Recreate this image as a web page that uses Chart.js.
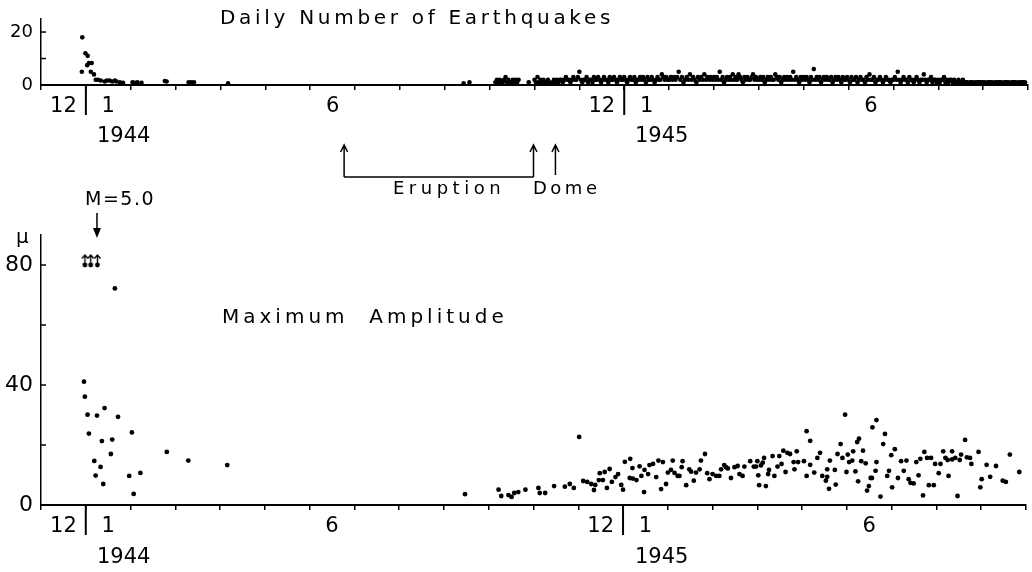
<!DOCTYPE html>
<html>
<head>
<meta charset="utf-8">
<script src="https://cdn.jsdelivr.net/npm/chart.js@4.4.0/dist/chart.umd.min.js"></script>
<style>
  html, body { margin: 0; padding: 0; background: #fff; }
  #wrap { position: relative; width: 1032px; height: 572px; overflow: hidden; font-family: "DejaVu Sans", sans-serif; color: #000; }
  #wrap canvas { position: absolute; left: 0; top: 0; }
  .lbl { position: absolute; white-space: pre; line-height: 1; }
</style>
</head>
<body>
<div id="wrap">
  <canvas id="countChart" width="1032" height="572"></canvas>
  <canvas id="ampChart" width="1032" height="572"></canvas>
  <div class="lbl" style="left:220px;top:7px;font-size:20px;letter-spacing:3.7px">Daily Number of Earthquakes</div>
  <div class="lbl" style="left:97px;top:125px;font-size:21px">1944</div>
  <div class="lbl" style="left:635px;top:125px;font-size:21px">1945</div>
  <div class="lbl" style="left:393px;top:179px;font-size:18px;letter-spacing:4.5px">Eruption</div>
  <div class="lbl" style="left:533px;top:179px;font-size:18px;letter-spacing:3.5px">Dome</div>
  <div class="lbl" style="left:85px;top:189px;font-size:19px;letter-spacing:1.5px">M=5.0</div>
  <div class="lbl" style="left:16px;top:226px;font-size:20px">μ</div>
  <div class="lbl" style="left:222px;top:306px;font-size:20px;letter-spacing:4px">Maximum  Amplitude</div>
  <div class="lbl" style="left:97px;top:546px;font-size:21px">1944</div>
  <div class="lbl" style="left:635px;top:546px;font-size:21px">1945</div>
</div>
<script>
// x values are months counted from 1 Jan 1944 (-1 = Dec 1943, 12 = Jan 1945)
const monthLabelPos = [-0.5, 0.5, 5.5, 11.5, 12.5, 17.5];
const monthLabelText = ['12', '1', '6', '12', '1', '6'];
const yearStarts = [0, 12];

const countTicks = [0, 10, 20];
const countTickLabels = ['0', '', '20'];
const ampTicks = [0, 20, 40, 60, 80];
const ampTickLabels = ['0', '', '40', '', '80'];

// eruption of Showa-Shinzan and the dome
const eruptionStart = 5.77;
const eruptionEnd = 10.0;
const domeStart = 10.49;
const mainShock = 0.25;

// daily number, swarm of Dec 1943 - Apr 1944 and a few in Sep 1944
const countEarly = [
  [-0.09, 5], [-0.08, 18], [-0.01, 12], [0.03, 7.5], [0.04, 11], [0.07, 8.3], [0.11, 5], [0.13, 8.3],
  [0.18, 4], [0.22, 2], [0.27, 2], [0.33, 1.7], [0.42, 1.3], [0.47, 1.7], [0.53, 1.7], [0.59, 1.3],
  [0.65, 1.7], [0.68, 1.3], [0.76, 1], [0.83, 0.8], [1.04, 1], [1.09, 0.8], [1.15, 1], [1.24, 0.8],
  [1.76, 1.5], [1.80, 1.3], [2.29, 1], [2.35, 1], [2.41, 1], [3.17, 0.6], [8.42, 0.6], [8.55, 1]
];

// daily number from 5 Oct 1944 on (null = no shock recorded)
const countOct44 = [1, 2, 1, 2, 1, 1, 2, 3, 1, 2, 1, 1, 2, 1, 2, 1, 2, null, null, null, null, null, null, 1, null, null, null];
const countNov44 = [2, 1, 3, 1, 2, 1, 2, 1, 1, 2, 1, null, 1, 2, 1, 2, 1, 2, 2, 1, 2, 3, 2, 2, 1, 2, 3, 2, 2, 3];
const countDec44 = [5, 2, 1, 2, 2, 3, 1, 2, 2, 1, 3, 2, 2, 3, 2, 1, 2, 3, 2, 2, 1, 3, 2, 2, 3, 2, 1, 2, 3, 2, 2];
const countJan45 = [3, 2, 1, 2, 3, 2, 2, 3, 1, 2, 2, 3, 2, 3, 2, 1, 3, 2, 2, 3, 2, 1, 2, 3, 2, 2, 4, 3, 2, 3, 2];
const countFeb45 = [2, 3, 2, 3, 2, 3, 5, 2, 3, 1, 2, 3, 2, 4, 2, 3, 2, 1, 3, 2, 3, 2, 4, 2, 3, 2, 3, 2];
const countMar45 = [3, 2, 3, 2, 5, 2, 3, 1, 2, 3, 2, 3, 2, 4, 2, 3, 2, 4, 3, 2, 1, 3, 2, 3, 2, 2, 3, 4, 2, 3, 2];
const countApr45 = [2, 3, 2, 3, 1, 2, 3, 2, 3, 2, 2, 4, 3, 2, 3, 1, 2, 3, 2, 3, 2, 3, 2, 5, 2, 3, 2, 1, 3, 2];
const countMay45 = [3, 2, 3, 2, 1, 3, 2, 6, 2, 3, 2, 3, 1, 2, 3, 2, 3, 2, 2, 3, 1, 2, 3, 2, 3, 2, 1, 3, 2, 2, 3];
const countJun45 = [2, 1, 3, 2, 2, 3, 1, 2, 3, 2, 2, 1, 3, 2, 4, 2, 2, 3, 1, 2, 2, 3, 2, 1, 2, 3, 2, 2, 1, 2];
const countJul45 = [2, 3, 2, 5, 2, 1, 2, 3, 2, 2, 1, 3, 2, 2, 1, 2, 3, 2, 1, 2, 2, 4, 2, 1, 2, 2, 3, 1, 2, 2, 1];
const countAug45 = [2, 1, 2, 2, 3, 1, 2, 1, 2, 2, 1, 2, 1, 1, 2, 1, 1, 2, 1, 1, 1, null, 1, 1, 1, null, 1, 1, 1, 1, 1];
const countSep45 = [1, 1, null, 1, 1, 1, 1, null, 1, 1, 1, 1, 1, null, 1, 1, 1, 1, null, 1, 1, 1, 1, null, 1, 1, 1, 1, 1, null];

// maximum amplitude (micron)
const ampOffScale = [[-0.02, 80], [0.11, 80], [0.26, 80]];
const ampEarly = [
  [-0.04, 41.1], [-0.02, 36.1], [0.04, 30.1], [0.07, 23.8], [0.19, 14.7], [0.22, 9.8], [0.25, 29.8],
  [0.33, 12.7], [0.36, 21.3], [0.39, 7], [0.42, 32.3], [0.56, 17], [0.59, 21.8], [0.65, 72.2],
  [0.72, 29.4], [0.97, 9.7], [1.03, 24.2], [1.07, 3.7], [1.22, 10.7], [1.81, 17.7], [2.29, 14.8], [3.16, 13.3]
];
const ampMid = [
  [8.47, 3.6], [9.22, 5.1], [9.28, 3], [9.44, 3.3], [9.51, 2.7], [9.57, 4], [9.66, 4.3], [9.82, 5.1],
  [10.11, 5.7], [10.14, 4], [10.26, 4], [10.46, 6.3], [10.70, 6.1], [10.81, 7], [10.90, 5.7], [11.02, 22.7],
  [11.11, 8], [11.20, 7.7], [11.29, 7], [11.35, 5], [11.38, 6.7], [11.46, 8.3], [11.48, 10.6], [11.55, 8.3],
  [11.59, 11], [11.64, 5.7], [11.70, 12], [11.75, 7.7], [11.83, 9.3], [11.89, 10.3], [11.96, 6.7], [12.00, 5.1],
  [12.04, 14.4], [12.15, 9], [12.16, 15.4], [12.21, 12.3], [12.22, 8.8], [12.30, 8.3], [12.37, 12.9], [12.41, 9.7],
  [12.47, 4.3], [12.48, 11.7], [12.56, 10.3], [12.59, 13.3], [12.67, 13.7], [12.74, 9.3], [12.79, 14.8], [12.85, 5.3],
  [12.89, 14.3], [12.96, 7], [13.00, 10.8], [13.07, 11.7], [13.11, 14.8], [13.15, 10.7], [13.22, 9.7]
];
const ampSpring45 = [
  [13.26, 9.7], [13.31, 12.6], [13.33, 14.6], [13.41, 6.6], [13.48, 11.9], [13.52, 11.1], [13.58, 8.1], [13.63, 10.8],
  [13.71, 11.9], [13.74, 14.8], [13.83, 17], [13.88, 10.6], [13.93, 8.6], [14.00, 10.3], [14.08, 9.7], [14.15, 9.7],
  [14.19, 11.9], [14.26, 13.3], [14.30, 12.6], [14.34, 12.2], [14.41, 9], [14.49, 12.6], [14.56, 13], [14.60, 10.3],
  [14.67, 9.7], [14.71, 12.8], [14.84, 14.6], [14.92, 12.8], [14.97, 12.8], [15.00, 14.6], [15.02, 9.9], [15.04, 6.6],
  [15.08, 13.2], [15.12, 14.1], [15.15, 15.7], [15.19, 6.3], [15.24, 10.3], [15.26, 11.7], [15.34, 16.3], [15.38, 9.7],
  [15.45, 12.8], [15.49, 16.3], [15.54, 13.7], [15.58, 18.1], [15.63, 11], [15.67, 17.4], [15.73, 17], [15.81, 14.3],
  [15.83, 11.9], [15.88, 17.9], [15.91, 14.3], [16.04, 14.6], [16.10, 24.6], [16.10, 9.7], [16.18, 21.4], [16.18, 13.4],
  [16.27, 10.8], [16.34, 15.7], [16.40, 17.4], [16.45, 9.7], [16.53, 8.1], [16.56, 9.4], [16.56, 11.9], [16.60, 5.4],
  [16.62, 14.8], [16.73, 11.7], [16.75, 6.8], [16.79, 17], [16.86, 20.3], [16.90, 15.7], [16.96, 30.1], [16.99, 11]
];
const ampSummer45 = [
  [17.02, 16.8], [17.05, 14.3], [17.12, 14.8], [17.14, 17.9], [17.19, 11.2], [17.23, 21], [17.25, 7.9], [17.27, 22.1],
  [17.32, 14.6], [17.36, 18.1], [17.42, 13.9], [17.45, 4.8], [17.49, 6.3], [17.53, 9], [17.56, 9], [17.57, 25.9],
  [17.64, 11.4], [17.66, 28.3], [17.66, 14.3], [17.75, 2.8], [17.81, 20.3], [17.85, 23.7], [17.90, 9.7], [17.94, 11.4],
  [17.99, 16.6], [18.01, 5.9], [18.07, 18.6], [18.14, 9], [18.21, 14.6], [18.27, 11.4], [18.33, 14.8], [18.38, 8.6],
  [18.42, 7.4], [18.49, 7.2], [18.55, 14.3], [18.60, 9.9], [18.64, 15.4], [18.70, 3.2], [18.73, 17.7], [18.79, 15.7],
  [18.83, 6.6], [18.88, 15.7], [18.94, 6.6], [18.97, 13.7], [19.05, 10.6], [19.09, 13.7], [19.15, 17.9], [19.20, 15.7],
  [19.25, 15], [19.27, 9.7], [19.35, 17.9], [19.35, 15.2], [19.42, 15.7], [19.47, 3], [19.52, 15], [19.55, 16.8],
  [19.64, 21.7], [19.68, 15.9], [19.75, 15.7], [19.78, 13.7], [19.94, 17.7], [19.98, 5.9], [20.01, 8.6], [20.12, 13.4],
  [20.20, 9.4], [20.33, 13], [20.48, 8.1], [20.55, 7.7], [20.64, 16.8], [20.85, 11]
];

const FONT = '"DejaVu Sans", sans-serif';

const countSegments = [
  [1944, 9, 5, countOct44], [1944, 10, 1, countNov44], [1944, 11, 1, countDec44],
  [1945, 0, 1, countJan45], [1945, 1, 1, countFeb45], [1945, 2, 1, countMar45],
  [1945, 3, 1, countApr45], [1945, 4, 1, countMay45], [1945, 5, 1, countJun45],
  [1945, 6, 1, countJul45], [1945, 7, 1, countAug45], [1945, 8, 1, countSep45]
];

const countPoints = countEarly.map(([x, y]) => ({ x, y }));
countSegments.forEach(([yr, mo, firstDay, vals]) => {
    const daysInMonth = new Date(yr, mo + 1, 0).getDate();
    vals.forEach((v, i) => {
        if (v === null) return;
        countPoints.push({ x: (yr - 1944) * 12 + mo + (firstDay - 1 + i) / daysInMonth, y: v });
    });
});

const ampPoints = [...ampEarly, ...ampMid, ...ampSpring45, ...ampSummer45].map(([x, y]) => ({ x, y }));
const ampOverPoints = ampOffScale.map(([x, y]) => ({ x, y }));

// dot with a small up arrow: value beyond the scale
function offScaleMarker() {
    const c = document.createElement('canvas');
    c.width = 9;
    c.height = 28;
    const g = c.getContext('2d');
    g.fillStyle = '#000';
    g.strokeStyle = '#000';
    g.lineWidth = 1.4;
    g.beginPath();
    g.arc(4.5, 14, 2.4, 0, Math.PI * 2);
    g.fill();
    g.beginPath();
    g.moveTo(4.5, 14);
    g.lineTo(4.5, 4);
    g.stroke();
    g.beginPath();
    g.moveTo(1.5, 7.5);
    g.lineTo(4.5, 4);
    g.lineTo(7.5, 7.5);
    g.stroke();
    return c;
}

function monthAxis(axisHeight) {
    return {
        type: 'linear',
        min: -1,
        max: 21,
        afterBuildTicks: scale => {
            const t = [];
            for (let m = -1; m <= 21; m++) t.push(m);
            monthLabelPos.forEach(v => t.push(v));
            t.sort((a, b) => a - b);
            scale.ticks = t.map(v => ({ value: v }));
        },
        afterFit: scale => { scale.height = axisHeight; },
        grid: {
            drawOnChartArea: false,
            tickLength: 5,
            lineWidth: 1.5,
            color: ctx => (ctx.tick && Number.isInteger(ctx.tick.value)) ? '#000' : 'rgba(0,0,0,0)'
        },
        border: { color: '#000', width: 2 },
        ticks: {
            autoSkip: false,
            maxRotation: 0,
            padding: 4,
            color: '#000',
            font: { family: FONT, size: 21 },
            callback: v => {
                const i = monthLabelPos.indexOf(v);
                return i >= 0 ? monthLabelText[i] : '';
            }
        }
    };
}

function valueAxis(max, ticks, labels, fontSize) {
    return {
        type: 'linear',
        min: 0,
        max: max,
        afterBuildTicks: scale => { scale.ticks = ticks.map(v => ({ value: v })); },
        afterFit: scale => { scale.width = 41; },
        grid: { drawOnChartArea: false, drawTicks: false },
        border: { color: '#000', width: 1.5 },
        ticks: {
            autoSkip: false,
            padding: 8,
            color: '#000',
            font: { family: FONT, size: fontSize },
            callback: v => {
                const i = ticks.indexOf(v);
                return i >= 0 ? labels[i] : '';
            }
        }
    };
}

// short inner ticks on the value axis and the long year lines under the time axis
const axisMarks = {
    id: 'axisMarks',
    afterDraw(chart) {
        const { ctx, chartArea, scales: { x, y } } = chart;
        ctx.save();
        ctx.strokeStyle = '#000';
        ctx.lineWidth = 1.5;
        y.ticks.forEach(t => {
            const py = y.getPixelForValue(t.value);
            ctx.beginPath();
            ctx.moveTo(chartArea.left, py);
            ctx.lineTo(chartArea.left + 5, py);
            ctx.stroke();
        });
        ctx.lineWidth = 2;
        yearStarts.forEach(v => {
            const px = x.getPixelForValue(v);
            ctx.beginPath();
            ctx.moveTo(px, chartArea.bottom);
            ctx.lineTo(px, chartArea.bottom + 30);
            ctx.stroke();
        });
        ctx.restore();
    }
};

function upArrow(ctx, x, bottom, top) {
    ctx.beginPath();
    ctx.moveTo(x, bottom);
    ctx.lineTo(x, top);
    ctx.moveTo(x - 3.5, top + 7);
    ctx.lineTo(x, top);
    ctx.lineTo(x + 3.5, top + 7);
    ctx.stroke();
}

// eruption / dome arrows and the M=5.0 arrow
const eventMarks = {
    id: 'eventMarks',
    afterDraw(chart) {
        const { ctx, scales: { x } } = chart;
        const xs = x.getPixelForValue(eruptionStart);
        const xe = x.getPixelForValue(eruptionEnd);
        const xd = x.getPixelForValue(domeStart);
        const xm = x.getPixelForValue(mainShock);
        ctx.save();
        ctx.strokeStyle = '#000';
        ctx.fillStyle = '#000';
        ctx.lineWidth = 1.5;
        upArrow(ctx, xs, 177, 145);
        upArrow(ctx, xe, 177, 145);
        upArrow(ctx, xd, 175, 145);
        ctx.beginPath();
        ctx.moveTo(xs, 177);
        ctx.lineTo(xe, 177);
        ctx.stroke();
        ctx.beginPath();
        ctx.moveTo(xm, 213);
        ctx.lineTo(xm, 230);
        ctx.stroke();
        ctx.beginPath();
        ctx.moveTo(xm - 4, 228);
        ctx.lineTo(xm + 4, 228);
        ctx.lineTo(xm, 238);
        ctx.closePath();
        ctx.fill();
        ctx.restore();
    }
};

new Chart(document.getElementById('countChart'), {
    type: 'scatter',
    data: {
        datasets: [{
            data: countPoints,
            pointRadius: 2.3,
            pointBackgroundColor: '#000',
            pointBorderWidth: 0
        }]
    },
    options: {
        responsive: false,
        animation: false,
        layout: { padding: { top: 12, right: 3, left: 0, bottom: 0 } },
        plugins: { legend: { display: false }, tooltip: { enabled: false } },
        scales: {
            x: monthAxis(487),
            y: valueAxis(25, countTicks, countTickLabels, 18)
        }
    },
    plugins: [axisMarks]
});

new Chart(document.getElementById('ampChart'), {
    type: 'scatter',
    data: {
        datasets: [{
            data: ampPoints,
            pointRadius: 2.4,
            pointBackgroundColor: '#000',
            pointBorderWidth: 0
        }, {
            data: ampOverPoints,
            pointStyle: offScaleMarker(),
            pointRadius: 5
        }]
    },
    options: {
        responsive: false,
        animation: false,
        layout: { padding: { top: 235, right: 3, left: 0, bottom: 0 } },
        plugins: { legend: { display: false }, tooltip: { enabled: false } },
        scales: {
            x: monthAxis(67),
            y: valueAxis(90, ampTicks, ampTickLabels, 22)
        }
    },
    plugins: [axisMarks, eventMarks]
});
</script>
</body>
</html>
